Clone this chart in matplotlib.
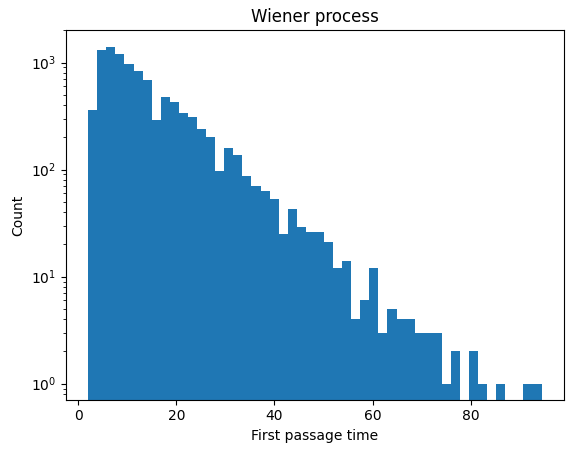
import numpy as np
import matplotlib
matplotlib.use("Agg")
import matplotlib.pyplot as plt

# histogram of first passage times, 50 bins between 2 and 94.5
counts = [357, 1300, 1390, 1190, 980, 840, 680, 288, 472, 424,
          335, 307, 238, 200, 96, 158, 136, 87, 70, 63,
          53, 25, 43, 29, 26, 26, 21, 12, 14, 4,
          6, 12, 3, 5, 4, 4, 3, 3, 3, 1,
          2, 0, 2, 1, 0, 1, 0, 0, 1, 1]
edges = np.linspace(2.0, 94.5, len(counts) + 1)
centers = (edges[:-1] + edges[1:]) / 2

fig, ax = plt.subplots(figsize=(5.7, 4.53), dpi=100)
ax.hist(centers, bins=edges, weights=counts, color="#1f77b4")
ax.set_yscale("log")
ax.set_ylim(0.71, 2000)
ax.set_title("Wiener process")
ax.set_xlabel("First passage time")
ax.set_ylabel("Count")

plt.subplots_adjust(left=0.115, right=0.99, top=0.933, bottom=0.118)
plt.savefig("out.png")
